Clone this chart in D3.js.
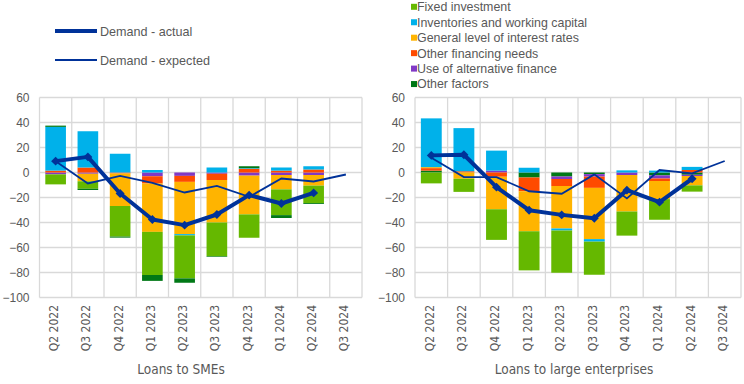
<!doctype html>
<html lang="en">
<head>
    <meta charset="utf-8"/>
    <title>Loan demand factors</title>
    <style>
        body { margin: 0; background: #fff; }
        text { font-family: "Liberation Sans", Arial, sans-serif; fill: #595959; }
        .narrow { font-family: "Liberation Sans Narrow", "Arial Narrow", "DejaVu Sans Condensed", sans-serif; }
        .grid line { stroke: #d9d9d9; stroke-width: 1.3; }
    </style>
    <script src="https://d3js.org/d3.v7.min.js"></script>
</head>
<body>
<svg width="744" height="384"></svg>
<script>

    var quarters = ["Q2 2022", "Q3 2022", "Q4 2022", "Q1 2023", "Q2 2023",
                    "Q3 2023", "Q4 2023", "Q1 2024", "Q2 2024", "Q3 2024"];
    var yTicks = [60, 40, 20, 0, -20, -40, -60, -80, -100];

    // loans to SMEs
    var smeFixed       = [-8, -6, -24.5, -34.5, -34.4, -27, -18.7, -20.6, -14, 0];
    var smeInventories = [35, 29, 15, 2, -1, 4, 0.5, 2.5, 2.6, 0];
    var smeRates       = [0, -6, -26, -38.7, -41.8, -34, -31, -11.5, -8.5, 0];
    var smeFinancing   = [1.5, 4, -0.8, -5.8, -4.8, -5, 3, 1.5, 2.4, 0];
    var smeAlternative = [-1.5, -1, 0, -3, -2.7, -1, -2.5, -2, -2, 0];
    var smeOther       = [1, -1, -0.8, -4.7, -3.5, -0.5, 1.5, -2.3, -0.7, 0];
    var smeActual      = [9.1, 12.5, -16.8, -37.6, -42.1, -33.6, -18.1, -24.8, -16.3, null];
    var smeExpected    = [9, -8.8, -2.7, -8.3, -16, -10.7, -19.5, -4.8, -7.2, -1.6];

    // loans to large enterprises
    var largeFixed       = [-8.7, -10.5, -24.5, -31.3, -33.8, -26.5, -19.3, -16.5, -5, 0];
    var largeInventories = [39, 34.5, 16, 3.8, -1.6, -2, 1.7, 1.5, 2.5, 0];
    var largeRates       = [0.8, -5, -26, -32, -34, -41, -29.2, -14.5, -7.5, 0];
    var largeFinancing   = [2, 1, -3.4, -11, -5.6, -9, 0, -2, 2, 0];
    var largeAlternative = [0, 0, 1.5, 0, -2, -2, -2, -2.5, -1, 0];
    var largeOther       = [1.5, 0, 0, -4, -3.2, -1.3, 0, -2.3, -1.8, 0];
    var largeActual      = [13.7, 14.2, -11.7, -30.2, -33.9, -36.6, -14.1, -23.7, -5, null];
    var largeExpected    = [11.8, -3.7, -3.7, -15, -17, -1.5, -20.7, 2, -0.7, 9.2];

    var factors = ["fixed", "inventories", "rates", "financing", "alternative", "other"];
    var labels = {
        fixed: "Fixed investment",
        inventories: "Inventories and working capital",
        rates: "General level of interest rates",
        financing: "Other financing needs",
        alternative: "Use of alternative finance",
        other: "Other factors"
    };
    var colors = {
        fixed: "#65b800",
        inventories: "#00b1ea",
        rates: "#ffb400",
        financing: "#ff4b00",
        alternative: "#8139c6",
        other: "#007816"
    };
    var navy = "#003299";

    function table(f, i, r, fn, a, o) {
        return quarters.map(function(q, k) {
            return { q: q, fixed: f[k], inventories: i[k], rates: r[k],
                     financing: fn[k], alternative: a[k], other: o[k] };
        });
    }

    var svg = d3.select("svg");
    var y = d3.scaleLinear().domain([-100, 60]).range([297.5, 97.5]);

    function drawPanel(left, right, rows, order, actual, expected, title, titleX) {
        var x = d3.scaleBand().domain(quarters).range([left, right]).padding(0);
        var bw = x.bandwidth() * 0.64;

        var grid = svg.append("g").attr("class", "grid");
        grid.selectAll(".h").data(yTicks).enter().append("line")
            .attr("x1", left).attr("x2", right)
            .attr("y1", function(d) { return y(d); })
            .attr("y2", function(d) { return y(d); });
        grid.selectAll(".v").data(quarters.concat([null])).enter().append("line")
            .attr("x1", function(d, i) { return left + i * x.step(); })
            .attr("x2", function(d, i) { return left + i * x.step(); })
            .attr("y1", y(60)).attr("y2", y(-100));

        var yAxis = svg.append("g")
            .attr("transform", "translate(" + (left - 10) + ",0)")
            .call(d3.axisLeft(y).tickValues(yTicks).tickSize(0).tickPadding(0));
        yAxis.select(".domain").remove();
        yAxis.selectAll("text").attr("font-size", 12).style("font-family", null);

        var stack = d3.stack().keys(order).offset(d3.stackOffsetDiverging);
        var layers = stack(rows);
        svg.append("g").selectAll("g").data(layers).enter().append("g")
            .attr("fill", function(d) { return colors[d.key]; })
            .selectAll("rect").data(function(d) { return d; }).enter().append("rect")
            .attr("x", function(d) { return x(d.data.q) + (x.bandwidth() - bw) / 2; })
            .attr("width", bw)
            .attr("y", function(d) { return y(Math.max(d[0], d[1])); })
            .attr("height", function(d) { return Math.abs(y(d[0]) - y(d[1])); });

        var cx = function(d, i) { return x(quarters[i]) + x.bandwidth() / 2; };
        var line = d3.line()
            .defined(function(d) { return d !== null; })
            .x(cx)
            .y(function(d) { return y(d); });

        svg.append("path").datum(expected)
            .attr("fill", "none").attr("stroke", navy).attr("stroke-width", 1.8)
            .attr("d", line);
        svg.append("path").datum(actual)
            .attr("fill", "none").attr("stroke", navy).attr("stroke-width", 4)
            .attr("stroke-linejoin", "round")
            .attr("d", line);
        svg.append("g").selectAll("path")
            .data(actual.map(function(d, i) { return { v: d, i: i }; })
                        .filter(function(d) { return d.v !== null; }))
            .enter().append("path")
            .attr("d", d3.symbol().type(d3.symbolSquare).size(40))
            .attr("fill", navy)
            .attr("transform", function(d) {
                return "translate(" + cx(d, d.i) + "," + y(d.v) + ") rotate(45)";
            });

        svg.append("g").selectAll("text").data(quarters).enter().append("text")
            .attr("class", "narrow")
            .attr("font-size", 12)
            .attr("text-anchor", "end")
            .attr("transform", function(d) {
                return "translate(" + (x(d) + x.bandwidth() / 2 + 2.5) + "," + (y(-100) + 7.5) + ") rotate(-90)";
            })
            .text(function(d) { return d; });

        svg.append("text")
            .attr("class", "narrow")
            .attr("font-size", 13.5)
            .attr("text-anchor", "middle")
            .attr("x", titleX)
            .attr("y", 374)
            .text(title);
    }

    drawPanel(39.5, 362, table(smeFixed, smeInventories, smeRates, smeFinancing, smeAlternative, smeOther),
              ["alternative", "financing", "rates", "inventories", "fixed", "other"],
              smeActual, smeExpected, "Loans to SMEs", 181);
    drawPanel(415, 741, table(largeFixed, largeInventories, largeRates, largeFinancing, largeAlternative, largeOther),
              ["other", "alternative", "financing", "rates", "inventories", "fixed"],
              largeActual, largeExpected, "Loans to large enterprises", 574);

    // line legend
    var lineLegend = svg.append("g");
    [["Demand - actual", 4, 31], ["Demand - expected", 1.8, 60]].forEach(function(d) {
        lineLegend.append("line")
            .attr("x1", 55).attr("x2", 97).attr("y1", d[2]).attr("y2", d[2])
            .attr("stroke", navy).attr("stroke-width", d[1]);
        lineLegend.append("text")
            .attr("x", 100).attr("y", d[2] + 4.5)
            .attr("font-size", 12.6)
            .text(d[0]);
    });

    // factor legend
    var legend = svg.append("g").selectAll("g").data(factors).enter().append("g")
        .attr("transform", function(d, i) { return "translate(411," + (6.8 + i * 15.45) + ")"; });
    legend.append("rect")
        .attr("x", 0).attr("y", -3).attr("width", 6).attr("height", 6)
        .attr("fill", function(d) { return colors[d]; });
    legend.append("text")
        .attr("x", 6).attr("y", 4.4)
        .attr("font-size", 12.4)
        .text(function(d) { return labels[d]; });

</script>
</body>
</html>
